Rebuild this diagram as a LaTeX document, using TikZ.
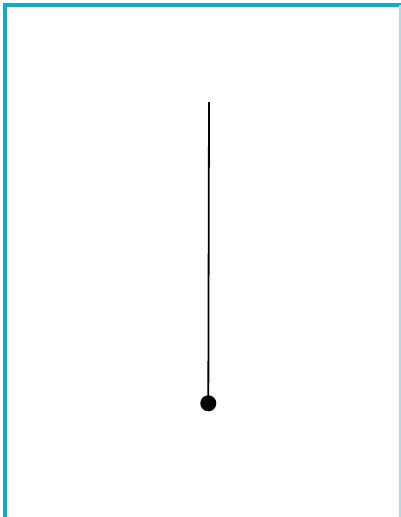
\documentclass[tikz,border=0pt]{standalone}
\begin{document}
\begin{tikzpicture}[x=1pt,y=-1pt,
  framecol/.style={draw={rgb,255:red,22;green,168;blue,202},line width=3.5pt},
  pend/.style={draw=black,line width=1.8pt},
  bob/.style={circle,fill=black,inner sep=0pt,minimum size=16pt}]
\useasboundingbox (0,0) rectangle (401,517);
\fill[white] (0,0) rectangle (401,517);
\draw[framecol] (5.2,517) -- (5.2,5.2) -- (401,5.2);
\draw[draw={rgb,255:red,170;green,220;blue,232},line width=1.5pt] (400.2,5.2) -- (400.2,517);
\coordinate (top) at (209,102);
\node[bob] (b) at (208.3,403.3) {};
\draw[pend] (top) -- (b.center);
\end{tikzpicture}
\end{document}
